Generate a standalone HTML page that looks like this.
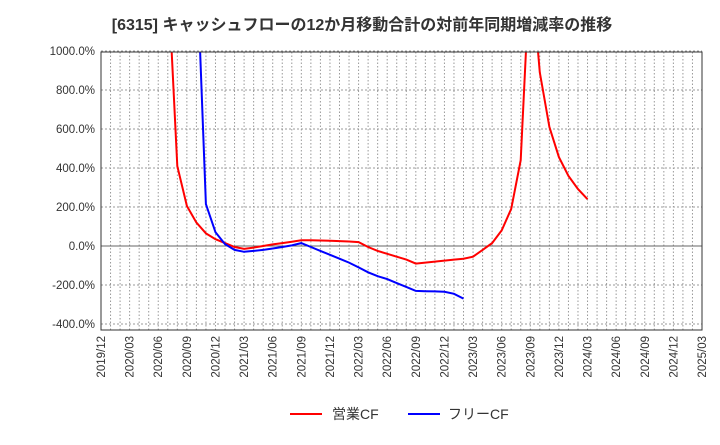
<!DOCTYPE html>
<html><head><meta charset="utf-8"><style>
body{margin:0;background:#fff;font-family:"Liberation Sans","Noto Sans CJK JP",sans-serif}
</style></head><body>
<svg id="c" width="720" height="440" xmlns="http://www.w3.org/2000/svg">
<text x="362" y="30" text-anchor="middle" font-size="16" font-weight="bold" fill="#333" font-family="Liberation Sans, Noto Sans CJK JP, sans-serif">[6315]  キャッシュフローの12か月移動合計の対前年同期増減率の推移</text>
<g id="grid"></g><g id="series"></g><g id="axes"></g>
<g>
<line x1="290" y1="414" x2="322" y2="414" stroke="#f00" stroke-width="2"/>
<text x="332" y="419" font-size="14" fill="#333">営業CF</text>
<line x1="408" y1="414" x2="440" y2="414" stroke="#00f" stroke-width="2"/>
<text x="448" y="419" font-size="14" fill="#333">フリーCF</text>
</g>
</svg>
<script>
const months=[];for(let y=2019,m=12,i=0;i<=63;i++){months.push(y+"/"+String(m).padStart(2,"0"));m++;if(m>12){m=1;y++;}}
const yTicks=[1000,800,600,400,200,0,-200,-400];
// monthly values starting 2019/12 (index 0)
const opCF=[null,null,null,null,null,null,null,1400,410,205,120,65,35,15,-5,-15,-8,0,8,15,22,30,29,28,27,25,23,20,-5,-25,-40,-55,-70,-90,-85,-80,-75,-70,-65,-55,-20,15,80,190,440,1460,890,610,456,360,292,240];
const freeCF=[null,null,null,null,null,null,null,null,null,null,1500,215,70,10,-20,-30,-25,-20,-13,-5,3,15,-5,-25,-45,-65,-85,-110,-135,-155,-170,-190,-210,-230,-232,-233,-235,-245,-270];
const L=101,R=702,T=52,B=330;
const xs=i=>L+(R-L)*i/63;
const ys=v=>246-v*0.195;
const ns="http://www.w3.org/2000/svg";
function mk(t,a,p){const e=document.createElementNS(ns,t);for(const k in a)e.setAttribute(k,a[k]);p.appendChild(e);return e;}
const g=document.getElementById('grid'),ax=document.getElementById('axes'),s=document.getElementById('series');
for(let i=1;i<63;i++){const l=mk('line',{x1:xs(i),x2:xs(i),y1:T,y2:B,stroke:'#999','stroke-dasharray':'1.5,2','stroke-width':1},g);
}
yTicks.forEach(v=>{const y=ys(v);const l=mk('line',{x1:L,x2:R,y1:y,y2:y,stroke:v==0?'#666':'#999','stroke-dasharray':v==0?'':'2,2','stroke-width':1},g);

const t=mk('text',{x:L-6,y:y+4,'text-anchor':'end','font-size':11.5,fill:'#333'},ax);t.textContent=v.toFixed(1)+'%';
});
const fr=mk('rect',{x:L,y:T,width:R-L,height:B-T,fill:'none',stroke:'#333'},ax);

for(let i=0;i<=63;i+=3){const x=xs(i);const t=mk('text',{x:x+4,y:B+6,'text-anchor':'end','font-size':11.5,fill:'#333',transform:`rotate(-90 ${x+4} ${B+6})`},ax);t.textContent=months[i];
}
const cp=mk('clipPath',{id:'cl'},s);mk('rect',{x:L,y:T,width:R-L,height:B-T},cp);
function line(d,c,n){let p='';d.forEach((v,i)=>{if(v==null)return;p+=(p?'L':'M')+xs(i).toFixed(1)+','+ys(v).toFixed(1);});
const e=mk('path',{d:p,fill:'none',stroke:c,'stroke-width':2,'clip-path':'url(#cl)'},s);}
line(opCF,'#f00','operating-cf-line');line(freeCF,'#00f','free-cf-line');
</script>
</body></html>
